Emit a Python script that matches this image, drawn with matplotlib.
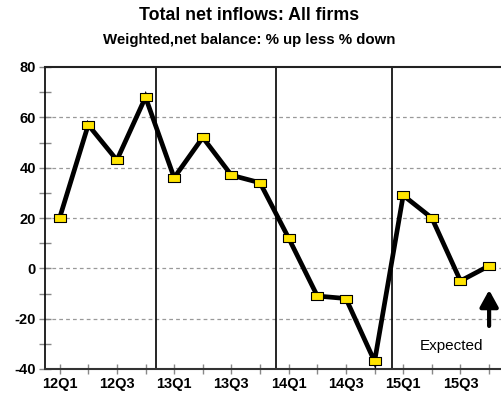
import matplotlib
matplotlib.use("Agg")
import matplotlib.pyplot as plt
from matplotlib.ticker import MultipleLocator

quarters = ["12Q1", "12Q2", "12Q3", "12Q4", "13Q1", "13Q2", "13Q3", "13Q4",
            "14Q1", "14Q2", "14Q3", "14Q4", "15Q1", "15Q2", "15Q3", "15Q4"]
values = [20, 57, 43, 68, 36, 52, 37, 34, 12, -11, -12, -37, 29, 20, -5, 1]
tick_labels = ["12Q1", "12Q3", "13Q1", "13Q3", "14Q1", "14Q3", "15Q1", "15Q3"]
year_breaks = [3.375, 7.55, 11.6]

plt.rcParams['font.family'] = ['Liberation Sans', 'DejaVu Sans']

fig = plt.figure(figsize=(5.02, 4.01), dpi=100)
ax = fig.add_axes([45/502, 1-369/401, 1-45/502, (369-67)/401])

x = list(range(len(values)))
rect = [(-1.35, -1), (1.35, -1), (1.35, 1), (-1.35, 1), (-1.35, -1)]
ax.plot(x, values, color='black', lw=3.4, zorder=3, solid_joinstyle='miter')
ax.plot(x, values, ls='none', marker=rect, ms=8, mfc='#FFE400', mec='black', mew=0.8, zorder=4)

for b in year_breaks:
    ax.axvline(b, color='black', lw=1.2, zorder=2)

ax.set_xlim(-0.51, 15.45)
ax.set_ylim(-40, 80)
ax.yaxis.set_major_locator(MultipleLocator(20))
ax.yaxis.set_minor_locator(MultipleLocator(10))
for yv in [-20, 0, 20, 40, 60]:
    ax.axhline(yv, color='#999999', lw=0.9, ls=(0, (3, 2.5)), zorder=1)

ax.set_xticks(x, minor=True)
ax.set_xticks(range(0, 16, 2))
ax.set_xticklabels(tick_labels, fontsize=10.5, fontweight='bold')
ax.tick_params(axis='y', which='major', direction='inout', length=9, width=1, color='#888888', pad=2)
ax.tick_params(axis='y', which='minor', direction='inout', length=9, width=1, color='#888888')
ax.tick_params(axis='x', which='both', direction='inout', length=7, width=1, color='#888888', pad=2)
ax.set_yticklabels([f"{int(v)}" for v in ax.get_yticks()], fontweight='bold', fontsize=10.5)

ax.spines['right'].set_visible(False)
ax.spines['left'].set_linewidth(1.2)
ax.spines['top'].set_linewidth(1.5)
ax.spines['bottom'].set_linewidth(1.5)
ax.spines['bottom'].set_color('#333333')
ax.spines['top'].set_color('#222222')

ax.annotate("", xy=(15, -7.5), xytext=(15, -24),
            arrowprops=dict(arrowstyle='-|>,head_length=1.0,head_width=0.55', color='black', lw=3))
ax.text(13.7, -31, "Expected", ha='center', va='center', fontsize=11)

fig.text(0.497, 1-15/401, "Total net inflows: All firms", ha='center', va='center', fontsize=12.8, fontweight='bold')
fig.text(0.497, 1-40/401, "Weighted,net balance: % up less % down", ha='center', va='center', fontsize=10.8, fontweight='bold')

fig.savefig("out.png", dpi=100)
